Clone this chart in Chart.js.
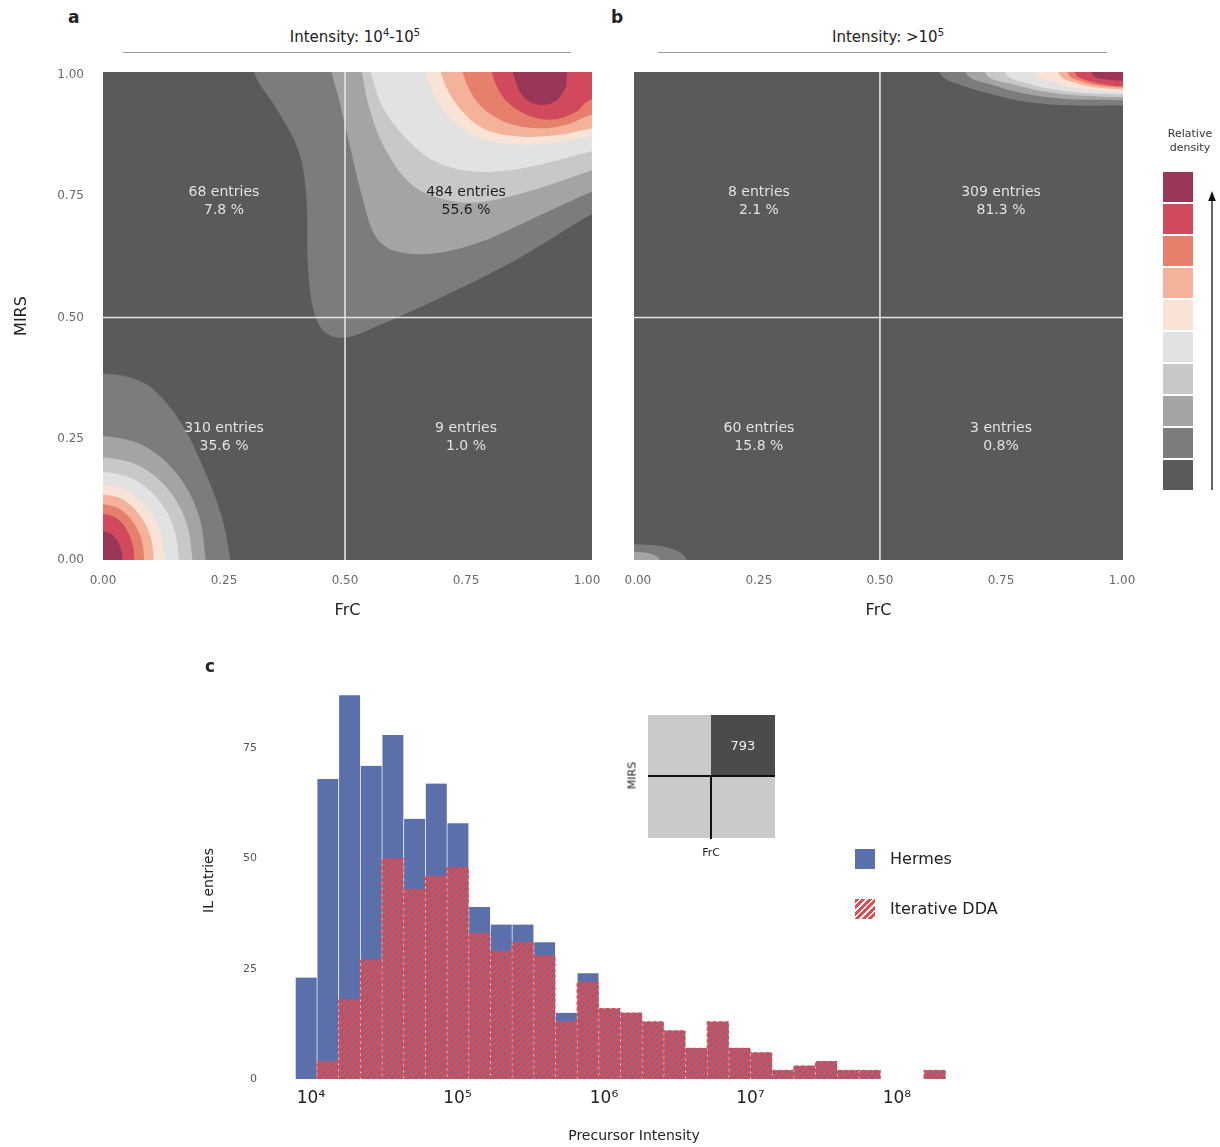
<!DOCTYPE html>
<html>
<head>
<meta charset="utf-8">
<script src="https://cdn.jsdelivr.net/npm/chart.js@4/dist/chart.umd.min.js"></script>
<style>
  body { margin: 0; background: #fff; font-family: "DejaVu Sans", sans-serif; color: #222; }
  #fig { position: relative; width: 1220px; height: 1147px; overflow: hidden; background: #fff; }
  canvas { position: absolute; }
  .abs { position: absolute; white-space: nowrap; }
  .ctr { position: absolute; width: 400px; text-align: center; white-space: nowrap; }
  .letter { font-weight: bold; font-size: 17px; }
  .ptitle { font-size: 15px; }
  .ptitle sup { font-size: 10px; }
  .rule { position: absolute; height: 1px; background: #9a9a9a; }
  .cbox { position: absolute; left: 1163px; width: 30px; height: 30px; }
  .leg { position: absolute; font-size: 16px; }
</style>
</head>
<body>
<div id="fig">
  <canvas id="chartA" width="610" height="570" style="left:0;top:60px"></canvas>
  <canvas id="chartB" width="520" height="570" style="left:620px;top:60px"></canvas>
  <canvas id="chartC" width="830" height="477" style="left:190px;top:670px"></canvas>

  <div class="abs letter" style="left:68px;top:7px">a</div>
  <div class="abs letter" style="left:611px;top:7px">b</div>
  <div class="abs letter" style="left:205px;top:656px">c</div>

  <div class="ctr ptitle" style="left:155px;top:27px">Intensity: 10<sup>4</sup>-10<sup>5</sup></div>
  <div class="rule" style="left:123px;top:52px;width:448px"></div>
  <div class="ctr ptitle" style="left:688px;top:27px">Intensity: &gt;10<sup>5</sup></div>
  <div class="rule" style="left:658px;top:52px;width:449px"></div>

  <div class="ctr" style="left:990px;top:127px;font-size:11px;line-height:14px;color:#333">Relative<br>density</div>
  <div id="cbar"></div>
  <svg class="abs" style="left:1205px;top:190px" width="14" height="302">
    <line x1="7" y1="8" x2="7" y2="300" stroke="#111" stroke-width="1.3"/>
    <polygon points="7,1 3.2,11 10.8,11" fill="#111"/>
  </svg>

  <div class="abs" style="left:648px;top:715px;width:63px;height:61px;background:#cacaca"></div>
  <div class="abs" style="left:711px;top:715px;width:64px;height:61px;background:#4b4b4b"></div>
  <div class="abs" style="left:648px;top:776px;width:127px;height:62px;background:#cacaca"></div>
  <div class="abs" style="left:648px;top:775px;width:127px;height:2px;background:#111"></div>
  <div class="abs" style="left:710px;top:776px;width:2px;height:63px;background:#111"></div>
  <div class="ctr" style="left:543px;top:738px;font-size:13px;color:#eee">793</div>
  <div class="ctr" style="left:432px;top:769px;font-size:11px;transform:rotate(-90deg)">MIRS</div>
  <div class="ctr" style="left:511px;top:846px;font-size:11px">FrC</div>

  <div class="abs" style="left:855px;top:849px;width:20px;height:20px;background:#5b70ab"></div>
  <div class="leg" style="left:890px;top:849px">Hermes</div>
  <div class="abs" style="left:855px;top:899px;width:20px;height:20px;background:repeating-linear-gradient(135deg,#e34a4c 0 3px,#fff 3px 4.6px)"></div>
  <div class="leg" style="left:890px;top:899px">Iterative DDA</div>
</div>

<script>
// density level colours, lowest (background) to highest
const LEVEL_COLORS = ['#5a5a5a', '#7c7c7c', '#a4a4a4', '#c7c8c9', '#e2e2e2',
  '#f9e3d6', '#f5b29a', '#e6806c', '#d0495d', '#9a3658'];

const QUADRANT_SPLIT = 0.5;
const AXIS_TICKS = [0, 0.25, 0.5, 0.75, 1];

// quadrant order: top-left, top-right, bottom-left, bottom-right
const A_COUNTS = [68, 484, 310, 9];
const A_SHARES = ['7.8 %', '55.6 %', '35.6 %', '1.0 %'];
const A_DARK_TEXT = [false, true, false, false];
const B_COUNTS = [8, 309, 60, 3];
const B_SHARES = ['2.1 %', '81.3 %', '15.8 %', '0.8%'];
const B_DARK_TEXT = [false, false, false, false];

// contour bands: [level, [[FrC, MIRS], ...]]
const A_CONTOURS = [
  [2, [[1.05, 1.05], [0.31, 1.05], [0.314, 1.0], [0.355, 0.936], [0.403, 0.847], [0.42, 0.751], [0.423, 0.615], [0.434, 0.519], [0.457, 0.471], [0.498, 0.458], [0.573, 0.485], [0.71, 0.547], [0.846, 0.615], [0.982, 0.697], [1.05, 0.735]]],
  [3, [[1.05, 1.05], [0.47, 1.05], [0.474, 1.0], [0.486, 0.956], [0.51, 0.854], [0.535, 0.751], [0.562, 0.669], [0.6, 0.638], [0.682, 0.632], [0.778, 0.655], [0.88, 0.7], [1.0, 0.755], [1.05, 0.775]]],
  [4, [[1.05, 1.05], [0.53, 1.05], [0.536, 1.0], [0.553, 0.922], [0.587, 0.84], [0.64, 0.772], [0.71, 0.742], [0.78, 0.738], [0.88, 0.76], [1.0, 0.8], [1.05, 0.815]]],
  [5, [[1.05, 1.05], [0.55, 1.05], [0.555, 1.0], [0.58, 0.93], [0.625, 0.87], [0.69, 0.82], [0.78, 0.8], [0.88, 0.81], [1.0, 0.84], [1.05, 0.85]]],
  [6, [[1.05, 1.05], [0.66, 1.05], [0.668, 1.0], [0.7, 0.932], [0.765, 0.875], [0.85, 0.857], [0.93, 0.86], [1.0, 0.872], [1.05, 0.878]]],
  [7, [[1.05, 1.05], [0.695, 1.05], [0.7, 1.0], [0.73, 0.94], [0.785, 0.89], [0.86, 0.873], [0.94, 0.876], [1.0, 0.888], [1.05, 0.898]]],
  [8, [[1.05, 1.05], [0.74, 1.05], [0.745, 1.0], [0.775, 0.942], [0.83, 0.903], [0.9, 0.89], [0.96, 0.898], [1.0, 0.915], [1.05, 0.928]]],
  [9, [[1.05, 1.05], [0.8, 1.05], [0.805, 1.0], [0.83, 0.95], [0.875, 0.918], [0.93, 0.908], [0.98, 0.925], [1.0, 0.945], [1.05, 0.965]]],
  [10, [[0.96, 1.03], [0.85, 1.03], [0.853, 0.985], [0.872, 0.952], [0.905, 0.938], [0.937, 0.947], [0.957, 0.975]]],
  [2, [[0.4, -0.05], [-0.05, -0.05], [-0.05, 0.385], [0, 0.384], [0.05, 0.378], [0.1, 0.355], [0.161, 0.283], [0.209, 0.186], [0.245, 0.09], [0.263, 0], [0.265, -0.05]]],
  [3, [[0.4, -0.05], [-0.05, -0.05], [-0.05, 0.256], [0, 0.256], [0.081, 0.237], [0.15, 0.181], [0.196, 0.098], [0.212, 0], [0.212, -0.05]]],
  [4, [[0.4, -0.05], [-0.05, -0.05], [-0.05, 0.212], [0, 0.212], [0.071, 0.196], [0.131, 0.15], [0.171, 0.081], [0.185, 0], [0.185, -0.05]]],
  [5, [[0.4, -0.05], [-0.05, -0.05], [-0.05, 0.182], [0, 0.182], [0.06, 0.168], [0.111, 0.129], [0.145, 0.07], [0.157, 0], [0.157, -0.05]]],
  [6, [[0.4, -0.05], [-0.05, -0.05], [-0.05, 0.155], [0, 0.155], [0.049, 0.143], [0.09, 0.11], [0.118, 0.059], [0.128, 0], [0.128, -0.05]]],
  [7, [[0.4, -0.05], [-0.05, -0.05], [-0.05, 0.135], [0, 0.135], [0.04, 0.125], [0.074, 0.095], [0.097, 0.052], [0.105, 0], [0.105, -0.05]]],
  [8, [[0.4, -0.05], [-0.05, -0.05], [-0.05, 0.115], [0, 0.115], [0.033, 0.106], [0.06, 0.081], [0.079, 0.044], [0.085, 0], [0.085, -0.05]]],
  [9, [[0.4, -0.05], [-0.05, -0.05], [-0.05, 0.095], [0, 0.095], [0.025, 0.088], [0.046, 0.067], [0.06, 0.036], [0.065, 0], [0.065, -0.05]]],
  [10, [[0.4, -0.05], [-0.05, -0.05], [-0.05, 0.06], [0, 0.06], [0.015, 0.055], [0.028, 0.042], [0.037, 0.023], [0.04, 0], [0.04, -0.05]]]
];

const B_CONTOURS = [
  [2, [[1.05, 1.05], [0.62, 1.05], [0.626, 1.0], [0.68, 0.975], [0.75, 0.955], [0.82, 0.942], [0.9, 0.937], [1.0, 0.937], [1.05, 0.937]]],
  [3, [[1.05, 1.05], [0.675, 1.05], [0.68, 1.0], [0.73, 0.98], [0.8, 0.961], [0.88, 0.951], [1.0, 0.948], [1.05, 0.948]]],
  [4, [[1.05, 1.05], [0.715, 1.05], [0.72, 1.0], [0.77, 0.982], [0.84, 0.966], [0.92, 0.957], [1.0, 0.954], [1.05, 0.954]]],
  [5, [[1.05, 1.05], [0.755, 1.05], [0.762, 1.0], [0.8, 0.984], [0.86, 0.97], [0.93, 0.962], [1.0, 0.96], [1.05, 0.96]]],
  [6, [[1.05, 1.05], [0.82, 1.05], [0.823, 1.0], [0.86, 0.985], [0.91, 0.972], [1.0, 0.965], [1.05, 0.965]]],
  [7, [[1.05, 1.05], [0.865, 1.05], [0.871, 1.0], [0.9, 0.985], [0.94, 0.975], [1.0, 0.97], [1.05, 0.97]]],
  [8, [[1.05, 1.05], [0.885, 1.05], [0.89, 1.0], [0.915, 0.987], [0.95, 0.978], [1.0, 0.974], [1.05, 0.974]]],
  [9, [[1.05, 1.05], [0.9, 1.05], [0.905, 1.0], [0.93, 0.988], [0.96, 0.981], [1.0, 0.977], [1.05, 0.977]]],
  [10, [[1.05, 1.05], [0.935, 1.05], [0.939, 1.0], [0.96, 0.992], [1.0, 0.988], [1.05, 0.988]]],
  [2, [[0.3, -0.05], [-0.05, -0.05], [-0.05, 0.032], [0, 0.032], [0.038, 0.03], [0.07, 0.023], [0.092, 0.012], [0.1, 0], [0.1, -0.05]]],
  [3, [[0.3, -0.05], [-0.05, -0.05], [-0.05, 0.016], [0, 0.016], [0.017, 0.015], [0.032, 0.011], [0.042, 0.006], [0.045, 0], [0.045, -0.05]]]
];

// histogram: bin centres in log10(intensity), counts per bin
const BIN_CENTERS = [3.965, 4.113, 4.261, 4.409, 4.557, 4.705, 4.853, 5.001, 5.149, 5.297,
  5.445, 5.593, 5.741, 5.889, 6.037, 6.185, 6.333, 6.481, 6.629, 6.777,
  6.925, 7.073, 7.221, 7.369, 7.517, 7.665, 7.813, 7.961, 8.109, 8.257];
const HERMES = [23, 68, 87, 71, 78, 59, 67, 58, 39, 35, 35, 31, 15, 24, 16,
  15, 13, 11, 7, 13, 7, 6, 2, 3, 4, 2, 2, 0, 0, 2];
const ITERATIVE_DDA = [0, 4, 18, 27, 50, 43, 46, 48, 33, 29, 31, 28, 13, 22, 16,
  15, 13, 11, 7, 13, 7, 6, 2, 3, 4, 2, 2, 0, 0, 2];
const DECADES = [4, 5, 6, 7, 8];
const COUNT_TICKS = [0, 25, 50, 75];

const BLUE = '#5b70ab';
const RED = '#e34a4c';
const SUP = { 4: '\u2074', 5: '\u2075', 6: '\u2076', 7: '\u2077', 8: '\u2078' };

Chart.defaults.font.family = '"DejaVu Sans", sans-serif';
Chart.defaults.animation = false;

// colour bar
const cbar = document.getElementById('cbar');
LEVEL_COLORS.slice().reverse().forEach((c, i) => {
  const d = document.createElement('div');
  d.className = 'cbox';
  d.style.top = (172 + i * 32) + 'px';
  d.style.background = c;
  cbar.appendChild(d);
});

// pin the plot area: no extra room for overhanging tick labels
function fixSize(prop, size) {
  return s => {
    s[prop] = size;
    s.paddingLeft = s.paddingRight = s.paddingTop = s.paddingBottom = 0;
  };
}

const areaFill = {
  id: 'areaFill',
  beforeDatasetsDraw(chart) {
    const { ctx, chartArea: a } = chart;
    ctx.save();
    ctx.fillStyle = LEVEL_COLORS[0];
    ctx.fillRect(a.left, a.top, a.right - a.left, a.bottom - a.top);
    ctx.restore();
  }
};

const quadLabels = {
  id: 'quadLabels',
  afterDatasetsDraw(chart, args, opts) {
    const { ctx, scales: { x, y } } = chart;
    const lo = QUADRANT_SPLIT / 2, hi = (1 + QUADRANT_SPLIT) / 2;
    const centres = [[lo, hi], [hi, hi], [lo, lo], [hi, lo]];
    ctx.save();
    ctx.font = '14px "DejaVu Sans"';
    ctx.textAlign = 'center';
    ctx.textBaseline = 'middle';
    centres.forEach(([cx, cy], i) => {
      const px = x.getPixelForValue(cx);
      const py = y.getPixelForValue(cy) + (cy > QUADRANT_SPLIT ? 5 : -1);
      ctx.fillStyle = opts.dark[i] ? '#1e1e1e' : '#e2e2e2';
      ctx.fillText(opts.counts[i] + ' entries', px, py - 9);
      ctx.fillText(opts.shares[i], px, py + 9);
    });
    ctx.restore();
  }
};

function contourDatasets(list) {
  return list.map(([level, pts]) => ({
    data: pts.map(p => ({ x: p[0], y: p[1] })),
    showLine: true,
    fill: 'shape',
    tension: 0.35,
    backgroundColor: LEVEL_COLORS[level - 1],
    borderColor: 'transparent',
    borderWidth: 0,
    pointRadius: 0,
    pointHoverRadius: 0,
    order: -level,
    clip: 0
  }));
}

// quadrant dividers run across the whole plot area (clipped at its edge)
function splitLines() {
  return [
    [{ x: QUADRANT_SPLIT, y: -1 }, { x: QUADRANT_SPLIT, y: 2 }],
    [{ x: -1, y: QUADRANT_SPLIT }, { x: 2, y: QUADRANT_SPLIT }]
  ].map(data => ({
    data, showLine: true, fill: false, borderColor: '#e4e4e4', borderWidth: 1.6,
    pointRadius: 0, pointHoverRadius: 0, order: -100, clip: 0
  }));
}

function densityChart(id, cfg) {
  return new Chart(document.getElementById(id), {
    type: 'scatter',
    data: { datasets: contourDatasets(cfg.contours).concat(splitLines()) },
    options: {
      responsive: false,
      layout: { padding: { left: cfg.padLeft, right: cfg.padRight, top: 12, bottom: 0 } },
      plugins: {
        legend: { display: false },
        tooltip: { enabled: false },
        quadLabels: { counts: cfg.counts, shares: cfg.shares, dark: cfg.dark }
      },
      scales: {
        x: {
          type: 'linear', min: cfg.xMin, max: cfg.xMax,
          afterBuildTicks: s => { s.ticks = AXIS_TICKS.map(v => ({ value: v })); },
          afterFit: fixSize('height', 70),
          grid: { display: false, drawTicks: false },
          border: { display: false },
          ticks: { padding: 14, color: '#6a6a6a', font: { size: 12 }, maxRotation: 0, autoSkip: false,
            callback: v => Number(v).toFixed(2) },
          title: { display: true, text: 'FrC', color: '#222', font: { size: 16 }, padding: { top: 0, bottom: 10 } }
        },
        y: {
          type: 'linear', min: 0, max: 1.006, display: cfg.showY,
          afterBuildTicks: s => { s.ticks = AXIS_TICKS.map(v => ({ value: v })); },
          afterFit: fixSize('width', cfg.showY ? 103 : 0),
          grid: { display: false, drawTicks: false },
          border: { display: false },
          ticks: { padding: 19, color: '#6a6a6a', font: { size: 12 }, autoSkip: false,
            callback: v => Number(v).toFixed(2) },
          title: { display: true, text: 'MIRS', color: '#222', font: { size: 16 }, padding: { top: 12, bottom: 0 } }
        }
      }
    },
    plugins: [areaFill, quadLabels]
  });
}

densityChart('chartA', {
  contours: A_CONTOURS, counts: A_COUNTS, shares: A_SHARES, dark: A_DARK_TEXT,
  showY: true, padLeft: 0, padRight: 18, xMin: 0, xMax: 1.0103
});
densityChart('chartB', {
  contours: B_CONTOURS, counts: B_COUNTS, shares: B_SHARES, dark: B_DARK_TEXT,
  showY: false, padLeft: 14, padRight: 17, xMin: -0.008, xMax: 1.002
});

// hatch for Iterative DDA
const tile = document.createElement('canvas');
tile.width = 6;
tile.height = 6;
const tg = tile.getContext('2d');
tg.strokeStyle = RED;
tg.lineWidth = 2.9;
tg.beginPath();
tg.moveTo(-1, 1); tg.lineTo(1, -1);
tg.moveTo(-1, 7); tg.lineTo(7, -1);
tg.moveTo(5, 7); tg.lineTo(7, 5);
tg.stroke();
const hatch = tg.createPattern(tile, 'repeat');

// empty bins are left out rather than drawn as zero-height bars
const toBars = counts => BIN_CENTERS.map((c, i) => ({ x: c, y: counts[i] > 0 ? counts[i] : null }));

new Chart(document.getElementById('chartC'), {
  type: 'bar',
  data: {
    datasets: [
      {
        label: 'Iterative DDA',
        data: toBars(ITERATIVE_DDA),
        backgroundColor: hatch,
        borderWidth: 0,
        grouped: false,
        barPercentage: 1,
        categoryPercentage: 1,
        order: 0
      },
      {
        label: 'Hermes',
        data: toBars(HERMES),
        backgroundColor: BLUE,
        borderColor: 'rgba(255,255,255,0.18)',
        borderWidth: { left: 1, right: 0, top: 0, bottom: 0 },
        grouped: false,
        barPercentage: 1,
        categoryPercentage: 1,
        order: 1
      }
    ]
  },
  options: {
    responsive: false,
    layout: { padding: { left: 0, right: 22, top: 12, bottom: 0 } },
    plugins: { legend: { display: false }, tooltip: { enabled: false } },
    scales: {
      x: {
        type: 'linear', min: 3.72, max: 8.69, offset: false,
        afterBuildTicks: s => { s.ticks = DECADES.map(v => ({ value: v })); },
        afterFit: fixSize('height', 68),
        grid: { display: false, drawTicks: false },
        border: { display: false },
        ticks: { padding: 9, color: '#222', font: { size: 17 }, maxRotation: 0, autoSkip: false,
          callback: v => '10' + SUP[v] },
        title: { display: true, text: 'Precursor Intensity', color: '#222', font: { size: 14 }, padding: { top: 0, bottom: 2 } }
      },
      y: {
        type: 'linear', min: 0, max: 90,
        afterBuildTicks: s => { s.ticks = COUNT_TICKS.map(v => ({ value: v })); },
        afterFit: fixSize('width', 80),
        grid: { display: false, drawTicks: false },
        border: { display: false },
        ticks: { padding: 13, color: '#555', font: { size: 11 }, autoSkip: false },
        title: { display: true, text: 'IL entries', color: '#222', font: { size: 14 }, padding: { top: 11, bottom: 0 } }
      }
    }
  }
});
</script>
</body>
</html>
